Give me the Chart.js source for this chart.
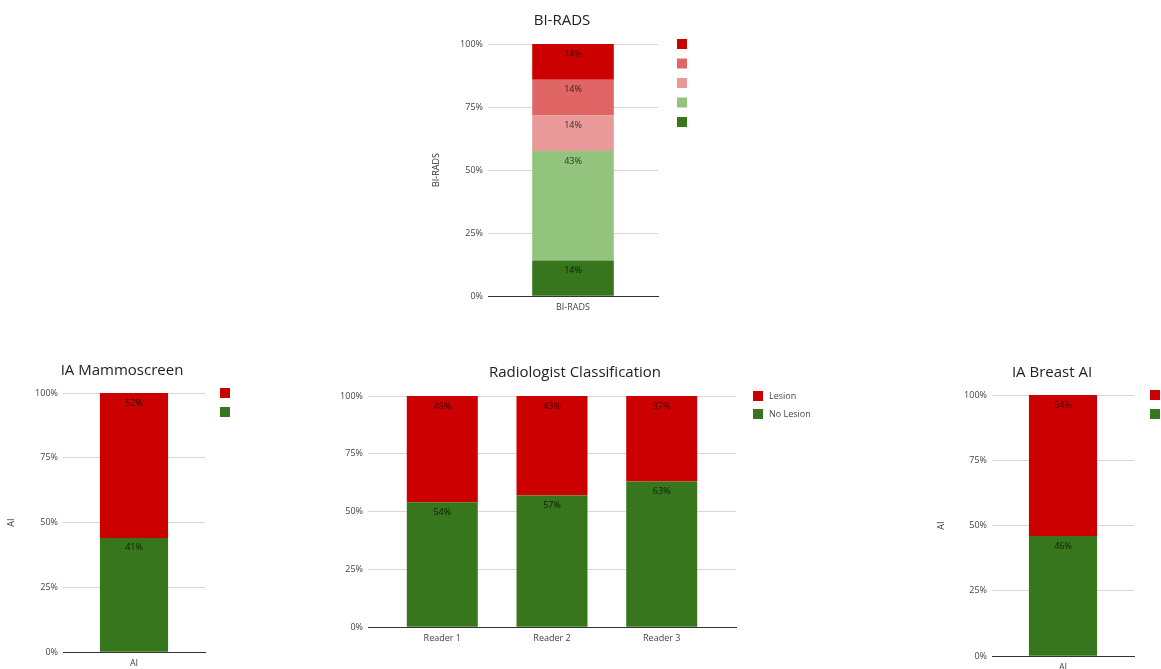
<!DOCTYPE html>
<html>
<head>
<meta charset="utf-8">
<script src="https://cdn.jsdelivr.net/npm/chart.js@4.4.0/dist/chart.umd.min.js"></script>
<style>
  html, body { margin: 0; padding: 0; background: #fff; overflow: hidden; }
  body { width: 1161px; height: 669px; position: relative; }
  .box { position: absolute; }
</style>
</head>
<body>
<div class="box" style="left:428px;top:0;width:268px;height:320px"><canvas id="birads-chart"></canvas></div>
<div class="box" style="left:0;top:350px;width:244px;height:330px"><canvas id="mammo-chart"></canvas></div>
<div class="box" style="left:335px;top:352px;width:480px;height:300px"><canvas id="reader-chart"></canvas></div>
<div class="box" style="left:933px;top:352px;width:238px;height:330px"><canvas id="breast-chart"></canvas></div>
<script>
const RED = "#cc0000";
const SALMON = "#e06666";
const PINK = "#ea9999";
const LIGHT_GREEN = "#93c47d";
const GREEN = "#38761d";
const FONT = "'Open Sans', 'Noto Sans', sans-serif";

// BI-RADS (bottom to top)
const biradsCategories = ["BI-RADS"];
const biradsA = [14];
const biradsB = [43];
const biradsC = [14];
const biradsD = [14];
const biradsE = [14];

// AI tools
const aiCategories = ["AI"];
const mammoNoLesion = [41];
const mammoLesion = [52];
const breastNoLesion = [46];
const breastLesion = [54];

// radiologists
const readerCategories = ["Reader 1", "Reader 2", "Reader 3"];
const readerNoLesion = [54, 57, 63];
const readerLesion = [46, 43, 37];

const yTicks = [0, 25, 50, 75, 100];

// each column is drawn as share of its own total (100% stacked)
function toShares(seriesList) {
  return seriesList.map((s) =>
    s.map((v, i) => {
      let sum = 0;
      seriesList.forEach((o) => (sum += o[i]));
      return (v / sum) * 100;
    })
  );
}

const segmentLabels = {
  id: "segmentLabels",
  afterDatasetsDraw(chart) {
    const ctx = chart.ctx;
    ctx.save();
    ctx.font = "9px " + FONT;
    ctx.fillStyle = "rgba(0,0,0,0.75)";
    ctx.textAlign = "center";
    ctx.textBaseline = "middle";
    chart.data.datasets.forEach((ds, i) => {
      chart.getDatasetMeta(i).data.forEach((bar, j) => {
        ctx.fillText(ds.shown[j] + "%", bar.x, bar.y + 10);
      });
    });
    ctx.restore();
  },
};

// legend to the right of the plot, top item first
const sideLegend = {
  id: "sideLegend",
  afterDraw(chart, args, opts) {
    const ctx = chart.ctx;
    const area = chart.chartArea;
    const items = chart.data.datasets.slice().reverse();
    ctx.save();
    ctx.font = "9px " + FONT;
    ctx.textBaseline = "middle";
    ctx.textAlign = "left";
    items.forEach((ds, k) => {
      const x = area.right + opts.gap;
      const y = area.top + k * opts.spacing;
      ctx.fillStyle = ds.backgroundColor;
      ctx.fillRect(x, y - 5, 10, 10);
      if (ds.label) {
        ctx.fillStyle = "#444";
        ctx.fillText(ds.label, x + 16, y);
      }
    });
    ctx.restore();
  },
};

function makeChart(id, cfg) {
  const shares = toShares(cfg.series.map((s) => s.values));
  const datasets = cfg.series.map((s, i) => ({
    label: s.label,
    data: shares[i],
    shown: s.values,
    backgroundColor: s.color,
    borderWidth: 0,
    categoryPercentage: 1,
    barPercentage: cfg.barPct,
  }));

  return new Chart(document.getElementById(id), {
    type: "bar",
    data: { labels: cfg.categories, datasets: datasets },
    plugins: [segmentLabels, sideLegend],
    options: {
      responsive: true,
      maintainAspectRatio: false,
      animation: false,
      layout: { padding: { left: 0, right: 0, top: 0, bottom: cfg.padBottom } },
      scales: {
        x: {
          stacked: true,
          z: 1,
          grid: { display: false, drawTicks: false },
          border: { color: "#333", width: 1 },
          ticks: { color: "#444", padding: 6, font: { family: FONT, size: 9 } },
          afterBuildTicks: (scale) => {
            // wider outer margin so the gaps at the ends equal the gaps between bars
            if (cfg.edge) {
              const n = cfg.categories.length;
              scale._startValue = -cfg.edge;
              scale._valueRange = n - 1 + 2 * cfg.edge;
            }
          },
        },
        y: {
          stacked: true,
          min: 0,
          max: 100,
          afterBuildTicks: (scale) => {
            scale.ticks = yTicks.map((v) => ({ value: v }));
          },
          afterFit: (scale) => {
            scale.width = cfg.axisWidth;
          },
          border: { display: false },
          grid: { color: "#d6d6d6", drawTicks: false },
          ticks: {
            color: "#444",
            padding: 5,
            font: { family: FONT, size: 9 },
            callback: (v) => v + "%",
          },
          title: {
            display: !!cfg.yTitle,
            text: cfg.yTitle,
            color: "#333",
            padding: { top: cfg.yTitlePad || 4, bottom: 4 },
            font: { family: FONT, size: 9 },
          },
        },
        // empty right-hand axis: keeps room for the legend
        side: {
          position: "right",
          min: 0,
          max: 100,
          grid: { display: false, drawTicks: false },
          border: { display: false },
          ticks: { display: false },
          afterFit: (scale) => {
            scale.width = cfg.legendRoom;
          },
        },
      },
      plugins: {
        title: {
          display: true,
          text: cfg.title,
          color: "#222",
          padding: { top: 12, bottom: cfg.titleBottom },
          font: { family: FONT, size: 15, weight: "normal" },
        },
        legend: { display: false },
        sideLegend: { gap: cfg.legendGap, spacing: cfg.legendSpacing },
        tooltip: { enabled: false },
      },
    },
  });
}

makeChart("birads-chart", {
  title: "BI-RADS",
  yTitle: "BI-RADS",
  yTitlePad: 3,
  categories: biradsCategories,
  series: [
    { label: "", values: biradsA, color: GREEN },
    { label: "", values: biradsB, color: LIGHT_GREEN },
    { label: "", values: biradsC, color: PINK },
    { label: "", values: biradsD, color: SALMON },
    { label: "", values: biradsE, color: RED },
  ],
  barPct: 0.48,
  axisWidth: 60,
  legendRoom: 38,
  padBottom: 1,
  titleBottom: 14,
  legendGap: 19,
  legendSpacing: 19.5,
});

makeChart("mammo-chart", {
  title: "IA Mammoscreen",
  yTitle: "AI",
  yTitlePad: 6,
  categories: aiCategories,
  series: [
    { label: "", values: mammoNoLesion, color: GREEN },
    { label: "", values: mammoLesion, color: RED },
  ],
  barPct: 0.48,
  axisWidth: 63,
  legendRoom: 39,
  padBottom: 5,
  titleBottom: 13,
  legendGap: 15,
  legendSpacing: 19,
});

makeChart("reader-chart", {
  title: "Radiologist Classification",
  yTitle: "",
  categories: readerCategories,
  series: [
    { label: "No Lesion", values: readerNoLesion, color: GREEN },
    { label: "Lesion", values: readerLesion, color: RED },
  ],
  barPct: 0.647,
  edge: 0.677,
  axisWidth: 33,
  legendRoom: 79,
  padBottom: 2,
  titleBottom: 14,
  legendGap: 17,
  legendSpacing: 18,
});

makeChart("breast-chart", {
  title: "IA Breast AI",
  yTitle: "AI",
  yTitlePad: 3,
  categories: aiCategories,
  series: [
    { label: "", values: breastNoLesion, color: GREEN },
    { label: "", values: breastLesion, color: RED },
  ],
  barPct: 0.48,
  axisWidth: 59,
  legendRoom: 37,
  padBottom: 3,
  titleBottom: 13,
  legendGap: 16,
  legendSpacing: 19,
});
</script>
</body>
</html>
